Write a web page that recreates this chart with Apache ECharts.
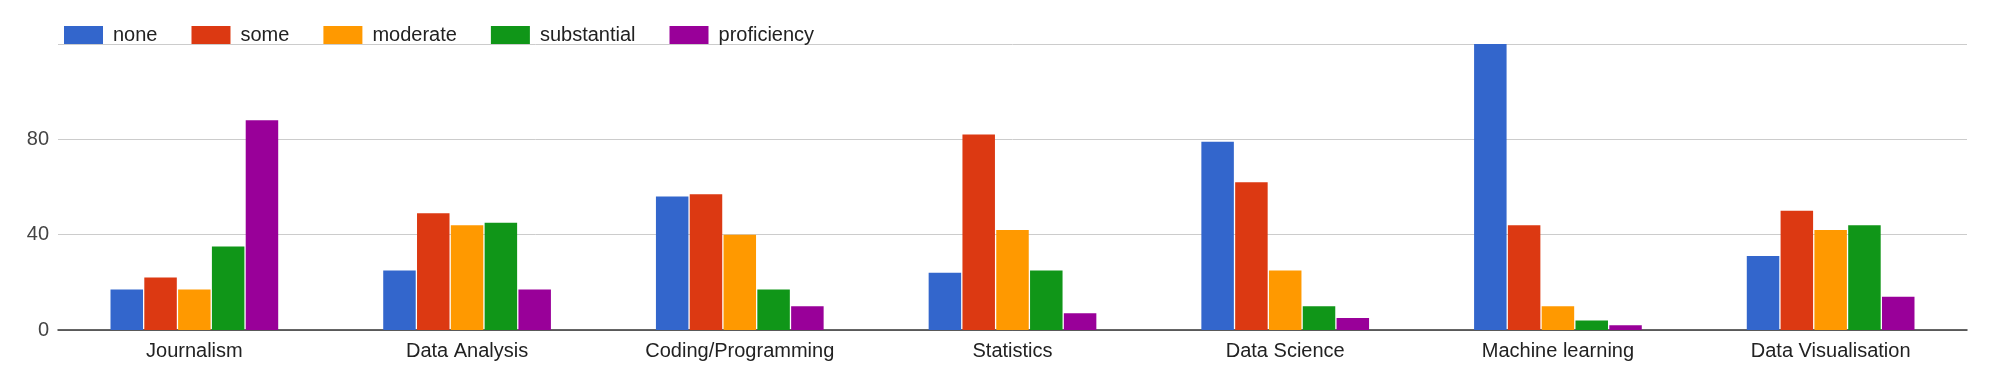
<!DOCTYPE html>
<html>
<head>
<meta charset="utf-8">
<script src="https://cdn.jsdelivr.net/npm/echarts@6/dist/echarts.min.js"></script>
<style>
html,body{margin:0;padding:0;background:#fff;}
#chart{width:2000px;height:385px;}
</style>
</head>
<body>
<div id="chart"></div>
<script>
var categories = ['Journalism','Data Analysis','Coding/Programming','Statistics','Data Science','Machine learning','Data Visualisation'];
var seriesNames = ['none','some','moderate','substantial','proficiency'];
var noneVals        = [17, 25, 56, 24, 79, 120, 31];
var someVals        = [22, 49, 57, 82, 62, 44, 50];
var moderateVals    = [17, 44, 40, 42, 25, 10, 42];
var substantialVals = [35, 45, 17, 25, 10, 4, 44];
var proficiencyVals = [88, 17, 10, 7, 5, 2, 14];
var colors = ['#3366cc','#dc3912','#ff9900','#109618','#990099'];
var yMin = 0, yMax = 120, yStep = 40;

var allVals = [noneVals, someVals, moderateVals, substantialVals, proficiencyVals];
var chart = echarts.init(document.getElementById('chart'), null, {renderer:'canvas'});
var font = '"Liberation Sans", Arial, sans-serif';
chart.setOption({
  animation: false,
  color: colors,
  textStyle: {fontFamily: font},
  legend: {
    left: 59, top: 20,
    itemWidth: 39, itemHeight: 18, itemGap: 34,
    icon: 'rect',
    textStyle: {fontSize: 20, color: '#222', fontFamily: font, padding: [0,0,0,5]},
    data: seriesNames
  },
  grid: {left: 58, right: 33, top: 44, bottom: 55, containLabel: false},
  xAxis: {
    type: 'category',
    data: categories,
    axisLine: {show: true, lineStyle: {color: '#333', width: 1.5}},
    axisTick: {show: false},
    axisLabel: {fontSize: 20, color: '#222', margin: 11, fontFamily: font},
    splitLine: {show: false}
  },
  yAxis: {
    type: 'value',
    min: yMin, max: yMax, interval: yStep,
    axisLine: {show: false},
    axisTick: {show: false},
    axisLabel: {fontSize: 20, color: '#444', margin: 9, showMaxLabel: false, fontFamily: font},
    splitLine: {lineStyle: {color: '#cccccc', width: 1}}
  },
  series: seriesNames.map(function(n, i){
    return {
      name: n, type: 'bar',
      data: allVals[i],
      barWidth: 32.5,
      barGap: '4%',
      itemStyle: {color: colors[i]}
    };
  })
});
</script>
</body>
</html>
